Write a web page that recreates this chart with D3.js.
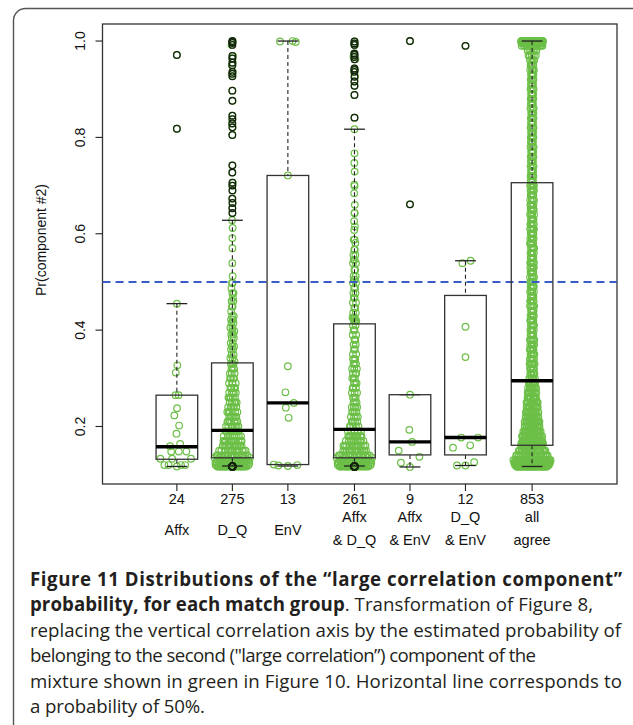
<!DOCTYPE html>
<html>
<head>
<meta charset="utf-8">
<script src="https://cdn.jsdelivr.net/npm/d3@7"></script>
<style>
  html, body { margin: 0; padding: 0; background: #fff; }
  svg { display: block; }
</style>
</head>
<body>
<svg id="fig" width="633" height="725"></svg>
<script>
// ---- Match groups -------------------------------------------------------
const groupNames = ["Affx", "D_Q", "EnV", "Affx\n& D_Q", "Affx\n& EnV", "D_Q\n& EnV", "all\nagree"];
const groupKind  = ["single", "single", "single", "pair", "pair", "pair", "all"];

// ---- Pr(component #2) per group, stored as value / repeat-count runs -----
const affxValues = [0.971, 0.818, 0.455, 0.327, 0.312, 0.265, 0.238, 0.223, 0.202, 0.185, 0.164, 0.159, 0.148, 0.133, 0.120, 0.117];
const affxCounts = [1, 1, 1, 1, 1, 2, 1, 1, 1, 1, 1, 1, 3, 3, 4, 1];

const dqValues = [1.000, 0.998, 0.996, 0.992, 0.969, 0.964, 0.955, 0.950, 0.936, 0.932, 0.927, 0.897, 0.876,
  0.845, 0.838, 0.829, 0.821, 0.805, 0.742, 0.727, 0.706, 0.700, 0.690, 0.673, 0.664, 0.653, 0.643,
  0.628, 0.612, 0.591, 0.570, 0.539, 0.512, 0.498, 0.487, 0.477, 0.467, 0.460, 0.449, 0.439, 0.429,
  0.422, 0.415, 0.405, 0.398, 0.391, 0.384, 0.373, 0.366, 0.360, 0.349, 0.342, 0.335,
  0.33, 0.32, 0.31, 0.30, 0.29, 0.28, 0.27, 0.26, 0.25, 0.24, 0.23, 0.22, 0.21, 0.20,
  0.19, 0.18, 0.17, 0.16, 0.15, 0.14,
  0.135, 0.13, 0.125, 0.12, 0.117];
const dqCounts = [1, 1, 1, 1, 1, 1, 1, 1, 1, 1, 1, 1, 1,
  1, 1, 1, 1, 1, 1, 1, 1, 1, 1, 1, 1, 1, 1,
  1, 1, 1, 1, 1, 1, 2, 1, 2, 1, 2, 2, 1, 2,
  2, 2, 2, 2, 2, 2, 2, 2, 2, 2, 2, 1,
  3, 3, 3, 4, 4, 4, 5, 5, 5, 6, 6, 6, 7, 7,
  8, 10, 11, 12, 13, 15,
  8, 10, 13, 18, 20];

const envValues = [1.000, 0.999, 0.998, 0.721, 0.325, 0.271, 0.249, 0.239, 0.218, 0.121, 0.120, 0.119, 0.118];
const envCounts = [1, 1, 1, 1, 1, 1, 1, 1, 1, 1, 1, 1, 1];

const affxDqValues = [0.999, 0.995, 0.992, 0.974, 0.971, 0.967, 0.962, 0.943, 0.940, 0.936, 0.926, 0.916, 0.907, 0.888, 0.841,
  0.817, 0.767, 0.747, 0.729, 0.702, 0.699, 0.684, 0.660, 0.643, 0.626, 0.615, 0.608, 0.588, 0.581,
  0.567, 0.556, 0.546, 0.539, 0.525, 0.512, 0.505, 0.498, 0.487, 0.477, 0.467, 0.457, 0.446, 0.436, 0.426, 0.419,
  0.41, 0.40, 0.39, 0.38, 0.37, 0.36, 0.35, 0.34, 0.33, 0.32, 0.31, 0.30, 0.29, 0.28, 0.27, 0.26, 0.25,
  0.24, 0.23, 0.22, 0.21, 0.20,
  0.19, 0.18, 0.17, 0.16, 0.15, 0.14,
  0.135, 0.13, 0.125, 0.12, 0.117];
const affxDqCounts = [1, 1, 1, 1, 1, 1, 1, 1, 1, 1, 1, 1, 1, 1, 1,
  1, 1, 1, 1, 1, 1, 1, 1, 2, 1, 1, 1, 2, 1,
  2, 2, 2, 2, 2, 2, 2, 2, 2, 2, 2, 2, 2, 2, 3, 3,
  2, 2, 2, 2, 2, 2, 2, 3, 3, 3, 3, 3, 3, 3, 3, 3, 3,
  4, 4, 4, 4, 5,
  7, 9, 10, 12, 13, 14,
  8, 10, 13, 17, 18];

const affxEnvValues = [1.000, 0.661, 0.266, 0.193, 0.168, 0.150, 0.137, 0.125, 0.116];
const affxEnvCounts = [1, 1, 1, 1, 1, 1, 1, 1, 1];

const dqEnvValues = [0.990, 0.544, 0.539, 0.407, 0.344, 0.177, 0.161, 0.156, 0.126, 0.119];
const dqEnvCounts = [1, 1, 1, 1, 1, 2, 1, 1, 1, 2];

const allAgreeValues = [1.000, 0.998, 0.995, 0.99, 0.98, 0.97,
  0.96, 0.95, 0.94, 0.93, 0.92, 0.91, 0.90, 0.89, 0.88, 0.87, 0.86, 0.85, 0.84,
  0.83, 0.82, 0.81, 0.80, 0.79, 0.78, 0.77, 0.76, 0.75, 0.74, 0.73, 0.72, 0.71,
  0.70, 0.69, 0.68, 0.67, 0.66, 0.65, 0.64, 0.63, 0.62, 0.61, 0.60, 0.59, 0.58, 0.57, 0.56, 0.55,
  0.54, 0.53, 0.52, 0.51, 0.50, 0.49, 0.48, 0.47, 0.46, 0.45, 0.44, 0.43, 0.42, 0.41, 0.40, 0.39, 0.38,
  0.37, 0.36, 0.35, 0.34, 0.33, 0.32, 0.31, 0.30,
  0.29, 0.28, 0.27, 0.26, 0.25, 0.24, 0.23, 0.22, 0.21, 0.20, 0.19, 0.18, 0.17, 0.165,
  0.16, 0.15, 0.14, 0.13, 0.125, 0.12, 0.117];
const allAgreeCounts = [50, 20, 15, 10, 6, 5,
  5, 5, 5, 4, 4, 4, 4, 4, 4, 4, 4, 4, 4,
  4, 4, 4, 4, 4, 4, 4, 4, 4, 4, 4, 4, 4,
  5, 5, 5, 5, 5, 5, 5, 5, 5, 5, 5, 5, 5, 5, 5, 5,
  5, 5, 5, 5, 5, 5, 5, 5, 5, 5, 5, 5, 5, 5, 5, 5, 5,
  6, 6, 6, 6, 6, 6, 6, 6,
  9, 10, 11, 12, 13, 14, 15, 16, 17, 18, 20, 22, 24, 12,
  18, 24, 30, 38, 36, 36, 32];

const groupValues = [affxValues, dqValues, envValues, affxDqValues, affxEnvValues, dqEnvValues, allAgreeValues];
const groupCounts = [affxCounts, dqCounts, envCounts, affxDqCounts, affxEnvCounts, dqEnvCounts, allAgreeCounts];

// ---- Box statistics (lower whisker, hinges, median, upper whisker) -------
const whiskerLow  = [0.117, 0.118, 0.118, 0.118, 0.116, 0.119, 0.117];
const hingeLow    = [0.132, 0.135, 0.121, 0.135, 0.141, 0.141, 0.161];
const medians     = [0.158, 0.192, 0.249, 0.194, 0.168, 0.177, 0.295];
const hingeHigh   = [0.265, 0.332, 0.721, 0.413, 0.266, 0.472, 0.706];
const whiskerHigh = [0.455, 0.628, 1.000, 0.817, 0.266, 0.544, 1.000];

const yTicks = [0.2, 0.4, 0.6, 0.8, 1.0];
const referenceLevel = 0.5;

// ---- Caption -------------------------------------------------------------
const captionLines = [
  [["Figure 11 Distributions of the “large correlation component”", true]],
  [["probability, for each match group", true], [". Transformation of Figure 8,", false]],
  [["replacing the vertical correlation axis by the estimated probability of", false]],
  [["belonging to the second (\"large correlation”) component of the", false]],
  [["mixture shown in green in Figure 10. Horizontal line corresponds to", false]],
  [["a probability of 50%.", false]]
];
// right edge of each set caption line
const captionLineEnds = [622, 593, 621, 536, 622, 205];

// ---- Layout ----------------------------------------------------------------
const W = 633, H = 725;
const plot = { left: 102.5, right: 617, top: 24, bottom: 484 };
const green = "#6cbf47";
const ink = "#222";
const axisFont = "'Liberation Sans', Arial, Helvetica, sans-serif";

const svg = d3.select("#fig");

// Outer rounded frame around figure + caption
svg.append("rect")
  .attr("x", 13.5).attr("y", 8.5)
  .attr("width", W + 20).attr("height", H + 20)
  .attr("rx", 12).attr("ry", 12)
  .attr("fill", "none").attr("stroke", "#555").attr("stroke-width", 1.4);

// Group slot positions: a wider gap whenever the kind of match changes
const slotPos = [];
{
  let extra = 0;
  groupKind.forEach((k, i) => {
    if (i > 0 && k !== groupKind[i - 1]) extra += 0.2;
    slotPos.push(1 + i + extra);
  });
}

// Expand value runs into individual observations
const groups = groupValues.map((vals, gi) => {
  const out = [];
  vals.forEach((v, j) => { for (let c = 0; c < groupCounts[gi][j]; c++) out.push(v); });
  return out.sort(d3.ascending);
});

const allVals = groups.flat();
const yMin = d3.min(allVals), yMax = d3.max(allVals);
const yPad = (yMax - yMin) * 0.04;

const x = d3.scaleLinear().domain([-0.34, 8.93]).range([plot.left, plot.right]);
const y = d3.scaleLinear().domain([yMin - yPad, yMax + yPad]).range([plot.bottom, plot.top]);

const slotPx = x(1) - x(0);
const boxHalf = 0.375 * slotPx;
const swarmHalf = 0.34 * slotPx;

// Van der Corput sequence for quasirandom horizontal spread
function vdc(n) {
  let q = 0, bk = 0.5;
  while (n > 0) { q += (n % 2) * bk; n = Math.floor(n / 2); bk /= 2; }
  return q;
}

// Density-scaled quasirandom offsets (neighbour density, self excluded)
const bw = 0.015;
const points = [];
groups.forEach((vals, gi) => {
  const dens = vals.map((v, i) => d3.sum(vals, (u, j) => j === i ? 0 : Math.exp(-0.5 * ((v - u) / bw) ** 2)));
  const maxD = d3.max(dens) || 1;
  vals.forEach((v, i) => {
    const off = (vdc(i + 1) - 0.5) * 2 * swarmHalf * dens[i] / maxD;
    points.push({ g: gi, v, off });
  });
});

// Plot frame
svg.append("rect")
  .attr("x", plot.left).attr("y", plot.top)
  .attr("width", plot.right - plot.left).attr("height", plot.bottom - plot.top)
  .attr("fill", "none").attr("stroke", "#333").attr("stroke-width", 1.3);

// Points (green open circles)
svg.append("g").selectAll("circle").data(points).join("circle")
  .attr("cx", d => x(slotPos[d.g]) + d.off)
  .attr("cy", d => y(d.v))
  .attr("r", 3.3)
  .attr("fill", "none")
  .attr("stroke", green)
  .attr("stroke-width", 1.2);

// Reference line at 50%
svg.append("line")
  .attr("x1", plot.left).attr("x2", plot.right)
  .attr("y1", y(referenceLevel)).attr("y2", y(referenceLevel))
  .attr("stroke", "#3a5cc6").attr("stroke-width", 2)
  .attr("stroke-dasharray", "8,5");

// Box plots
const boxes = svg.append("g");
groups.forEach((vals, gi) => {
  const cx = x(slotPos[gi]);
  const g = boxes.append("g");
  // whiskers
  [[whiskerHigh[gi], hingeHigh[gi]], [hingeLow[gi], whiskerLow[gi]]].forEach(([a, b]) => {
    g.append("line").attr("x1", cx).attr("x2", cx)
      .attr("y1", y(a)).attr("y2", y(b))
      .attr("stroke", ink).attr("stroke-width", 1.1).attr("stroke-dasharray", "4,3");
  });
  // staples
  [whiskerHigh[gi], whiskerLow[gi]].forEach(v => {
    g.append("line").attr("x1", cx - boxHalf / 2).attr("x2", cx + boxHalf / 2)
      .attr("y1", y(v)).attr("y2", y(v))
      .attr("stroke", ink).attr("stroke-width", 1.3);
  });
  // box
  g.append("rect")
    .attr("x", cx - boxHalf).attr("width", 2 * boxHalf)
    .attr("y", y(hingeHigh[gi])).attr("height", y(hingeLow[gi]) - y(hingeHigh[gi]))
    .attr("fill", "none").attr("stroke", "#333").attr("stroke-width", 1.3);
  // median
  g.append("line").attr("x1", cx - boxHalf).attr("x2", cx + boxHalf)
    .attr("y1", y(medians[gi])).attr("y2", y(medians[gi]))
    .attr("stroke", "#000").attr("stroke-width", 3.4);
  // outliers
  g.selectAll("circle.out")
    .data(vals.filter(v => v > whiskerHigh[gi] || v < whiskerLow[gi]))
    .join("circle")
    .attr("cx", cx).attr("cy", v => y(v)).attr("r", 3.3)
    .attr("fill", "none").attr("stroke", "#15240f").attr("stroke-width", 1.3);
});

// Y axis
const yAxis = svg.append("g");
yTicks.forEach(t => {
  yAxis.append("line").attr("x1", plot.left - 7).attr("x2", plot.left)
    .attr("y1", y(t)).attr("y2", y(t)).attr("stroke", ink).attr("stroke-width", 1.1);
  yAxis.append("text")
    .attr("transform", `translate(${plot.left - 18},${y(t)}) rotate(-90)`)
    .attr("text-anchor", "middle")
    .attr("font-family", axisFont).attr("font-size", 14).attr("fill", "#111")
    .text(d3.format(".1f")(t));
});
svg.append("text")
  .attr("transform", `translate(46,${(plot.top + plot.bottom) / 2 - 14}) rotate(-90)`)
  .attr("text-anchor", "middle")
  .attr("font-family", axisFont).attr("font-size", 14).attr("fill", "#111")
  .text("Pr(component #2)");

// X axis: group sizes and names
const xAxis = svg.append("g");
groups.forEach((vals, gi) => {
  const cx = x(slotPos[gi]);
  xAxis.append("line").attr("x1", cx).attr("x2", cx)
    .attr("y1", plot.bottom).attr("y2", plot.bottom + 7)
    .attr("stroke", ink).attr("stroke-width", 1.1);
  xAxis.append("text").attr("x", cx).attr("y", 504)
    .attr("text-anchor", "middle")
    .attr("font-family", axisFont).attr("font-size", 14.5).attr("fill", "#111")
    .text(vals.length);
  const lines = groupNames[gi].split("\n");
  const first = lines.length === 1 ? 535 : 521.5;
  lines.forEach((ln, k) => {
    xAxis.append("text").attr("x", cx).attr("y", first + k * 23)
      .attr("text-anchor", "middle")
      .attr("font-family", axisFont).attr("font-size", 14.5).attr("fill", "#111")
      .text(ln);
  });
});

// Caption: each run is its own text element, fitted to the set line width
const capFont = "'Open Sans', 'Noto Sans', sans-serif";
const cap = svg.append("g").attr("font-family", capFont).attr("fill", "#231f20");
const capLeft = 30, capTop = 586, capStep = 25.4;

const probe = cap.append("text").attr("font-size", 16).text(captionLines[2][0][0]);
const capSize = 16 * (captionLineEnds[2] - capLeft) / probe.node().getComputedTextLength();
probe.remove();

captionLines.forEach((parts, li) => {
  const runs = parts.map(([s, bold]) => {
    const t = cap.append("text")
      .attr("y", capTop + li * capStep)
      .attr("font-size", capSize)
      .attr("font-weight", bold ? 700 : 400)
      .text(s);
    return { t, len: t.node().getComputedTextLength() };
  });
  const ratio = (captionLineEnds[li] - capLeft) / d3.sum(runs, r => r.len);
  let cx = capLeft;
  runs.forEach(r => {
    const w = r.len * ratio;
    r.t.attr("x", cx).attr("textLength", w).attr("lengthAdjust", "spacing");
    cx += w;
  });
});
</script>
</body>
</html>
